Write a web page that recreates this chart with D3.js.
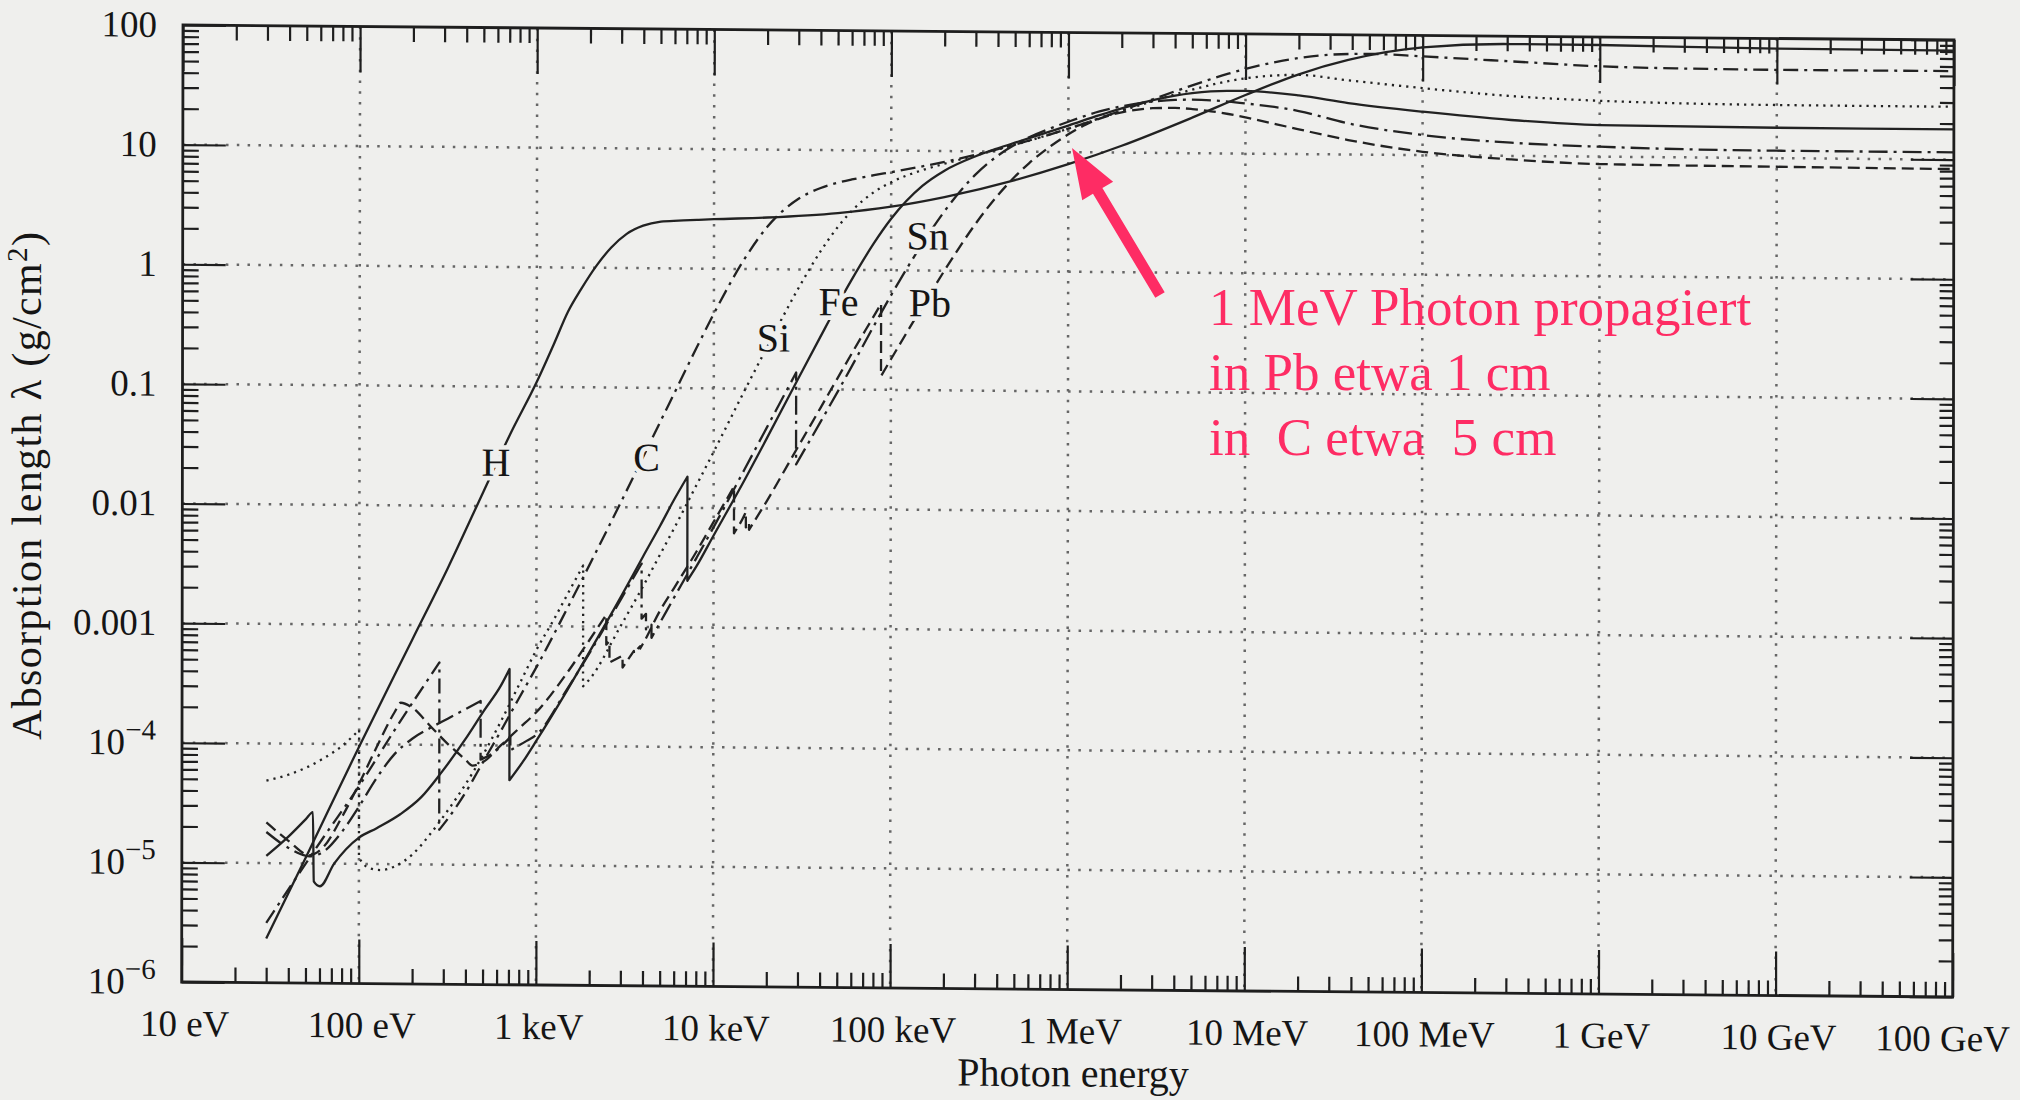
<!DOCTYPE html>
<html><head><meta charset="utf-8">
<script src="https://cdn.jsdelivr.net/npm/d3@7"></script>
<style>
html,body{margin:0;padding:0;background:#efefed;}
svg{display:block;}
text{font-family:"Liberation Serif","Times New Roman",serif;fill:#151515;}
</style></head><body>
<svg id="chart" width="2020" height="1100"></svg>
<script>
// ---------- data (pairs are [log10(E / eV), log10(lambda / g cm^-2)]) ----------
const xTickValues = [1e1,1e2,1e3,1e4,1e5,1e6,1e7,1e8,1e9,1e10,1e11];
const xTickLabels = ["10 eV","100 eV","1 keV","10 keV","100 keV","1 MeV","10 MeV","100 MeV","1 GeV","10 GeV","100 GeV"];
const yTickValues = [1e-6,1e-5,1e-4,1e-3,1e-2,1e-1,1,10,100];
const yTickLabels = [["10","−6"],["10","−5"],["10","−4"],["0.001"],["0.01"],["0.1"],["1"],["10"],["100"]];

const hydrogen = [[1.477,-5.63],[1.7,-4.95],[2.0,-4.02],[2.3,-3.12],[2.5,-2.52],[2.7,-1.88],[2.85,-1.40],[3.0,-0.96],[3.1,-0.63],[3.176,-0.37],[3.25,-0.18],[3.338,0.02],[3.42,0.17],[3.507,0.285],[3.6,0.355],[3.7,0.39],[3.8,0.40],[3.903,0.407],[4.0,0.414],[4.301,0.432],[4.699,0.474],[5.0,0.531],[5.301,0.615],[5.699,0.762],[6.0,0.899],[6.301,1.057],[6.699,1.297],[7.0,1.49],[7.301,1.667],[7.58,1.79],[8.0,1.9],[8.5,1.935],[9.0,1.933],[10.0,1.915],[11.0,1.912]];

const carbon = [[1.477,-5.50],[1.8,-4.78],[2.0,-4.35],[2.2,-3.88],[2.453,-3.31],[2.453,-4.71],[2.5,-4.62],[2.6,-4.40],[2.7,-4.14],[2.8,-3.88],[2.9,-3.61],[3.0,-3.345],[3.176,-2.845],[3.301,-2.48],[3.477,-1.956],[3.602,-1.577],[3.699,-1.28],[3.778,-1.04],[3.903,-0.66],[4.0,-0.375],[4.176,0.093],[4.301,0.355],[4.477,0.591],[4.602,0.683],[4.699,0.728],[4.778,0.756],[4.903,0.793],[5.0,0.82],[5.176,0.871],[5.301,0.91],[5.477,0.972],[5.602,1.02],[5.699,1.06],[5.903,1.15],[6.0,1.196],[6.176,1.286],[6.301,1.352],[6.477,1.448],[6.602,1.516],[6.699,1.567],[6.903,1.667],[7.0,1.708],[7.176,1.77],[7.301,1.803],[7.477,1.833],[7.699,1.843],[8.0,1.825],[8.5,1.79],[9.0,1.755],[9.5,1.742],[10.0,1.738],[11.0,1.74]];

const silicon = [[1.477,-4.31],[1.6,-4.26],[1.7,-4.2],[1.8,-4.12],[1.9,-4.02],[1.96,-3.94],[2.0,-3.88],[2.0,-4.95],[2.05,-5.03],[2.12,-5.05],[2.2,-5.02],[2.3,-4.92],[2.4,-4.75],[2.5,-4.55],[2.6,-4.33],[2.7,-4.08],[2.8,-3.8],[2.9,-3.5],[3.0,-3.2],[3.1,-2.94],[3.176,-2.73],[3.264,-2.49],[3.264,-3.5],[3.301,-3.44],[3.477,-2.99],[3.602,-2.66],[3.699,-2.39],[3.778,-2.17],[3.903,-1.81],[4.0,-1.53],[4.176,-1.01],[4.301,-0.65],[4.477,-0.157],[4.602,0.154],[4.699,0.358],[4.778,0.494],[4.903,0.652],[5.0,0.736],[5.176,0.839],[5.301,0.894],[5.477,0.966],[5.602,1.017],[5.699,1.058],[5.903,1.15],[6.0,1.196],[6.176,1.285],[6.301,1.348],[6.477,1.433],[6.602,1.49],[6.699,1.531],[6.903,1.605],[7.0,1.63],[7.301,1.662],[7.58,1.62],[8.0,1.56],[8.5,1.5],[9.0,1.467],[10.0,1.444],[11.0,1.442]];

const iron = [[1.477,-4.94],[1.6,-4.78],[1.7,-4.63],[1.74,-4.57],[1.745,-5.15],[1.78,-5.19],[1.86,-5.0],[2.0,-4.78],[2.1,-4.70],[2.235,-4.58],[2.35,-4.44],[2.46,-4.24],[2.6,-3.95],[2.705,-3.71],[2.8,-3.5],[2.849,-3.36],[2.849,-4.29],[2.927,-4.13],[3.0,-3.96],[3.176,-3.53],[3.301,-3.21],[3.477,-2.75],[3.602,-2.41],[3.699,-2.15],[3.778,-1.93],[3.852,-1.74],[3.852,-2.61],[3.903,-2.49],[4.0,-2.23],[4.176,-1.76],[4.301,-1.41],[4.477,-0.912],[4.602,-0.56],[4.699,-0.29],[4.778,-0.081],[4.903,0.225],[5.0,0.43],[5.176,0.707],[5.301,0.836],[5.477,0.959],[5.602,1.027],[5.699,1.075],[5.903,1.174],[6.0,1.222],[6.176,1.311],[6.301,1.37],[6.477,1.441],[6.602,1.48],[6.699,1.502],[6.903,1.524],[7.0,1.524],[7.301,1.49],[7.58,1.43],[8.0,1.363],[8.5,1.3],[9.0,1.264],[10.0,1.254],[11.0,1.253]];

const tin = [[1.477,-4.74],[1.6,-4.87],[1.72,-4.94],[1.8,-4.9],[1.9,-4.74],[2.0,-4.52],[2.1,-4.28],[2.2,-4.08],[2.3,-3.95],[2.4,-3.86],[2.5,-3.78],[2.6,-3.7],[2.686,-3.63],[2.686,-4.12],[2.75,-4.07],[2.854,-3.93],[2.854,-4.04],[2.946,-3.96],[3.0,-3.91],[3.176,-3.52],[3.301,-3.22],[3.477,-2.77],[3.594,-2.47],[3.594,-2.93],[3.619,-2.89],[3.619,-3.02],[3.65,-2.98],[3.65,-3.09],[3.699,-2.96],[3.778,-2.75],[3.903,-2.42],[4.0,-2.16],[4.176,-1.67],[4.301,-1.32],[4.465,-0.862],[4.465,-1.63],[4.602,-1.275],[4.699,-1.02],[4.778,-0.808],[4.903,-0.467],[5.0,-0.21],[5.176,0.223],[5.301,0.497],[5.477,0.807],[5.602,0.966],[5.699,1.059],[5.778,1.121],[5.903,1.2],[6.0,1.254],[6.176,1.342],[6.301,1.387],[6.477,1.429],[6.602,1.444],[6.699,1.447],[6.903,1.434],[7.0,1.42],[7.301,1.36],[7.58,1.26],[8.0,1.168],[8.5,1.11],[9.0,1.083],[10.0,1.062],[11.0,1.061]];

const lead = [[1.477,-4.66],[1.6,-4.81],[1.72,-4.93],[1.8,-4.86],[1.9,-4.62],[2.0,-4.33],[2.1,-4.02],[2.2,-3.73],[2.235,-3.65],[2.3,-3.69],[2.4,-3.84],[2.5,-3.99],[2.6,-4.12],[2.64,-4.17],[2.7,-4.14],[2.8,-4.0],[2.9,-3.86],[3.0,-3.72],[3.176,-3.384],[3.301,-3.11],[3.395,-2.90],[3.395,-3.15],[3.413,-3.12],[3.413,-3.30],[3.487,-3.24],[3.487,-3.34],[3.551,-3.2],[3.551,-3.22],[3.586,-3.16],[3.586,-3.18],[3.602,-3.14],[3.699,-2.86],[3.778,-2.67],[3.903,-2.367],[4.0,-2.116],[4.115,-1.82],[4.115,-2.21],[4.176,-2.05],[4.182,-2.03],[4.182,-2.16],[4.2,-2.12],[4.2,-2.18],[4.301,-1.936],[4.477,-1.48],[4.602,-1.157],[4.699,-0.905],[4.778,-0.70],[4.903,-0.384],[4.944,-0.28],[4.944,-0.886],[5.0,-0.744],[5.176,-0.304],[5.301,0.0],[5.477,0.395],[5.602,0.634],[5.699,0.792],[5.778,0.904],[5.903,1.052],[6.0,1.149],[6.097,1.231],[6.176,1.282],[6.301,1.337],[6.477,1.373],[6.602,1.377],[6.699,1.369],[6.778,1.357],[6.903,1.33],[7.0,1.303],[7.176,1.247],[7.301,1.207],[7.58,1.121],[8.0,1.028],[8.5,0.97],[9.0,0.938],[10.0,0.928],[11.0,0.921]];

const elementNames = ["H","C","Si","Fe","Sn","Pb"];
const elementSeries = [hydrogen, carbon, silicon, iron, tin, lead];
// where each element's name sits on its curve [log10 E, log10 lambda]
const elementLabelAt = [[2.771,-1.626],[3.621,-1.574],[4.337,-0.566],[4.704,-0.261],[5.206,0.297],[5.220,-0.263]];

const noteLines = ["1 MeV Photon propagiert","in Pb etwa 1 cm","in  C etwa  5 cm"];

// ---------- layout ----------
const W = 1771, H = 957;
const svg = d3.select("#chart");
svg.append("rect").attr("width",2020).attr("height",1100).attr("fill","#efefed");

// scanned page is slightly skewed: reproduce it with an affine transform
const g = svg.append("g").attr("transform","matrix(1,0.00847,-0.0014,1,183,25)");

const x = d3.scaleLog().domain([1e1,1e11]).range([0,W]);
const y = d3.scaleLog().domain([1e-6,1e2]).range([H,0]);

const xMinor = [], yMinor = [];
for (let e=1;e<=10;e++) for (let k=2;k<=9;k++) xMinor.push(k*Math.pow(10,e));
for (let e=-6;e<=1;e++) for (let k=2;k<=9;k++) yMinor.push(k*Math.pow(10,e));

// grid
const grid = g.append("g").attr("stroke","#666").attr("stroke-width",2.5).attr("stroke-dasharray","2.5,8.3");
grid.selectAll("line.gx").data(xTickValues.slice(1,-1)).join("line")
  .attr("x1",d=>x(d)).attr("x2",d=>x(d)).attr("y1",0).attr("y2",H);
grid.selectAll("line.gy").data(yTickValues.slice(1,-1)).join("line")
  .attr("y1",d=>y(d)).attr("y2",d=>y(d)).attr("x1",0).attr("x2",W);

// axes ticks (all inward)
function styleAxis(sel){ sel.select(".domain").remove(); sel.selectAll(".tick line").attr("stroke","#1e1e1e").attr("stroke-width",2.2); sel.selectAll("text").remove(); }
g.append("g").attr("transform",`translate(0,${H})`).call(d3.axisBottom(x).tickValues(xTickValues).tickSize(-44)).call(styleAxis);
g.append("g").attr("transform",`translate(0,${H})`).call(d3.axisBottom(x).tickValues(xMinor).tickSize(-15)).call(styleAxis);
g.append("g").call(d3.axisTop(x).tickValues(xTickValues).tickSize(-46)).call(styleAxis);
g.append("g").call(d3.axisTop(x).tickValues(xMinor).tickSize(-15)).call(styleAxis);
g.append("g").call(d3.axisLeft(y).tickValues(yTickValues).tickSize(-43)).call(styleAxis);
g.append("g").call(d3.axisLeft(y).tickValues(yMinor).tickSize(-16)).call(styleAxis);
g.append("g").attr("transform",`translate(${W},0)`).call(d3.axisRight(y).tickValues(yTickValues).tickSize(-43)).call(styleAxis);
g.append("g").attr("transform",`translate(${W},0)`).call(d3.axisRight(y).tickValues(yMinor).tickSize(-14)).call(styleAxis);

g.append("rect").attr("x",0).attr("y",0).attr("width",W).attr("height",H)
  .attr("fill","none").attr("stroke","#1e1e1e").attr("stroke-width",2.8);

// tick labels
g.append("g").selectAll("text").data(xTickValues).join("text")
  .attr("x",(d,i)=>x(d) + (i===xTickValues.length-1 ? -10 : 3))
  .attr("y",H+54).attr("text-anchor","middle").attr("font-size",37)
  .text((d,i)=>xTickLabels[i]);

const yl = g.append("g").selectAll("text").data(yTickValues).join("text")
  .attr("x",-26).attr("y",d=>y(d)+12).attr("text-anchor","end").attr("font-size",37);
yl.each(function(d,i){
  const t = d3.select(this), lab = yTickLabels[i];
  t.append("tspan").text(lab[0]);
  if (lab.length>1) t.append("tspan").attr("dy",-15).attr("font-size",29).text(lab[1]);
});

// curves
const styles = [
  {dash:null},
  {dash:"15,6,3,6"},
  {dash:"2.2,5"},
  {dash:null},
  {dash:"19,6,3,6"},
  {dash:"12,6"}
];
const gen = d3.line().x(d=>x(Math.pow(10,d[0]))).y(d=>y(Math.pow(10,d[1]))).curve(d3.curveMonotoneX);
function curvePath(data){
  const segs=[]; let cur=[data[0]];
  for(let i=1;i<data.length;i++){
    if (data[i][0]===data[i-1][0]) { segs.push(cur); cur=[data[i]]; } else cur.push(data[i]);
  }
  segs.push(cur);
  return segs.map((s,i)=>{ const p = gen(s).replace(/Z$/,""); return i===0 ? p : "L"+p.slice(1); }).join("");
}
const cg = g.append("g").attr("fill","none").attr("stroke","#222").attr("stroke-width",2.3).attr("stroke-linejoin","round");
cg.selectAll("path").data(elementSeries).join("path")
  .attr("d",d=>curvePath(d))
  .attr("stroke-dasharray",(d,i)=>styles[i].dash);

// element labels (sitting in gaps of their curves)
g.append("g").selectAll("text").data(elementNames).join("text")
  .attr("x",(d,i)=>x(Math.pow(10,elementLabelAt[i][0])))
  .attr("y",(d,i)=>y(Math.pow(10,elementLabelAt[i][1])))
  .attr("dy","0.36em").attr("text-anchor","middle").attr("font-size",40)
  .attr("stroke","#efefed").attr("stroke-width",9).attr("paint-order","stroke")
  .text(d=>d);

// axis titles
g.append("text").attr("x",W/2+6).attr("y",H+97).attr("text-anchor","middle").attr("font-size",40).text("Photon energy");
const yt = svg.append("text").attr("transform","translate(41,486) rotate(-90)").attr("text-anchor","middle")
  .attr("font-size",42).attr("textLength",508).attr("lengthAdjust","spacing");
yt.append("tspan").text("Absorption length λ  (g/cm");
yt.append("tspan").attr("dy",-14).attr("font-size",29).text("2");
yt.append("tspan").attr("dy",14).text(")");

// pink annotation
const pink = "#fe2c64";
const tip = [1072,148], tail = [1160,295];
const dx = tail[0]-tip[0], dy = tail[1]-tip[1], len = Math.hypot(dx,dy);
const ux = dx/len, uy = dy/len, nx = -uy, ny = ux;
const headL = 50, headW = 18, shaftW = 5.5;
const bx = tip[0]+ux*headL, by = tip[1]+uy*headL;
const pts = [
  tip,
  [bx+nx*headW, by+ny*headW],
  [bx+nx*shaftW, by+ny*shaftW],
  [tail[0]+nx*shaftW, tail[1]+ny*shaftW],
  [tail[0]-nx*shaftW, tail[1]-ny*shaftW],
  [bx-nx*shaftW, by-ny*shaftW],
  [bx-nx*headW, by-ny*headW]
];
svg.append("polygon").attr("points",pts.map(p=>p.join(",")).join(" ")).attr("fill",pink);
svg.append("g").selectAll("text").data(noteLines).join("text")
  .attr("x",1209).attr("y",(d,i)=>325+i*65).attr("font-size",53)
  .style("fill",pink).style("white-space","pre").text(d=>d);
</script>
</body></html>
